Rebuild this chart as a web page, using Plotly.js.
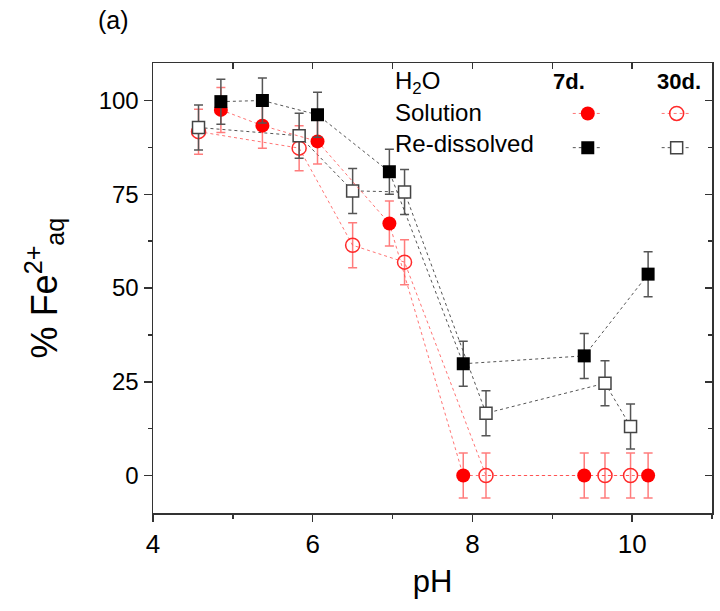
<!DOCTYPE html>
<html>
<head>
<meta charset="utf-8">
<script src="https://cdn.plot.ly/plotly-3.0.1.min.js"></script>
<style>
  html, body { margin: 0; padding: 0; background: #fff; }
  #chart { width: 720px; height: 611px; }
</style>
</head>
<body>
<div id="chart"></div>
<script>
// pH values
const pH7d = [4.85, 5.37, 6.06, 6.96, 7.885, 9.40, 10.20];
const pH30d = [4.57, 5.83, 6.50, 7.15, 8.17, 9.66, 9.98];
// % Fe2+aq, solution
const sol7d = [97.5, 93.3, 89.1, 67.2, 0, 0, 0];
const sol30d = [91.7, 87.3, 61.4, 56.9, 0, 0, 0];
// % Fe2+aq, re-dissolved
const red7d = [99.7, 100, 96.2, 81.0, 29.8, 31.9, 53.7];
const red30d = [92.8, 90.6, 75.9, 75.6, 16.6, 24.6, 13.1];
// error (+/-)
const err = 6;

const font = 'Liberation Sans, Arial, sans-serif';
const RED = '#ff0000';
const RED_LINE = 'rgba(255,70,70,0.75)';
const RED_ERR = 'rgba(255,80,80,0.75)';
const BLK_LINE = '#555555';
const BLK_ERR = '#555555';

function errY(col) {
  return {type: 'constant', value: err, visible: true, color: col, thickness: 1.5, width: 4.5};
}

const traces = [
  {
    x: pH30d, y: sol30d, name: ' ', legend: 'legend2',
    mode: 'lines+markers', type: 'scatter',
    line: {color: RED_LINE, width: 1, dash: 'dot'},
    marker: {symbol: 'circle-open', size: 14, color: '#ff2a2a', line: {width: 1.5}},
    error_y: errY(RED_ERR)
  },
  {
    x: pH30d, y: red30d, name: ' ', legend: 'legend2',
    mode: 'lines+markers', type: 'scatter',
    line: {color: BLK_LINE, width: 1, dash: 'dot'},
    marker: {symbol: 'square', size: 12, color: '#ffffff', line: {width: 1.5, color: '#444444'}},
    error_y: errY(BLK_ERR)
  },
  {
    x: pH7d, y: sol7d, name: ' ', legend: 'legend',
    mode: 'lines+markers', type: 'scatter',
    line: {color: RED_LINE, width: 1, dash: 'dot'},
    marker: {symbol: 'circle', size: 14, color: RED},
    error_y: errY(RED_ERR)
  },
  {
    x: pH7d, y: red7d, name: ' ', legend: 'legend',
    mode: 'lines+markers', type: 'scatter',
    line: {color: BLK_LINE, width: 1, dash: 'dot'},
    marker: {symbol: 'square', size: 13, color: '#000000'},
    error_y: errY(BLK_ERR)
  },
  {
    x: [], y: [], xaxis: 'x2', yaxis: 'y2', showlegend: false,
    hoverinfo: 'skip', mode: 'markers', type: 'scatter'
  }
];

const layout = {
  width: 720, height: 611,
  margin: {l: 153, r: 8, t: 63, b: 98, autoexpand: false},
  paper_bgcolor: '#ffffff', plot_bgcolor: '#ffffff',
  font: {family: font, color: '#000'},
  showlegend: true,
  xaxis: {
    range: [4, 11], tick0: 4, dtick: 2, ticks: 'outside', ticklen: 7, tickwidth: 1.5,
    tickcolor: '#333', showline: true, linecolor: '#333', linewidth: 1.5, mirror: true,
    showgrid: false, zeroline: false, tickfont: {size: 26, family: font},
    minor: {dtick: 1, tick0: 4, ticks: 'outside', ticklen: 4, tickwidth: 1.5, tickcolor: '#333', showgrid: false},
    title: {text: 'pH', font: {size: 31, family: font}, standoff: 12}
  },
  yaxis: {
    range: [-10, 110], tick0: 0, dtick: 25, ticks: 'outside', ticklen: 8, tickwidth: 1.5,
    tickcolor: '#333', showline: true, linecolor: '#333', linewidth: 1.5, mirror: true,
    showgrid: false, zeroline: false, tickfont: {size: 24, family: font},
    minor: {dtick: 12.5, tick0: 0, ticks: 'outside', ticklen: 4, tickwidth: 1.5, tickcolor: '#333', showgrid: false},
    title: {text: '% Fe<sup>2+</sup><sub>aq</sub>', font: {size: 36, family: font}, standoff: 30}
  },
  xaxis2: {
    overlaying: 'x', side: 'top', anchor: 'y', range: [4, 11], tick0: 4, dtick: 1,
    ticks: 'inside', ticklen: 6, tickwidth: 1.5, tickcolor: '#333',
    showticklabels: false, showgrid: false, zeroline: false, showline: false
  },
  yaxis2: {
    overlaying: 'y', side: 'right', anchor: 'x', range: [-10, 110], tick0: 0, dtick: 25,
    ticks: 'inside', ticklen: 7, tickwidth: 1.5, tickcolor: '#333',
    minor: {dtick: 12.5, tick0: 0, ticks: 'inside', ticklen: 4, tickwidth: 1.5, tickcolor: '#333', showgrid: false},
    showticklabels: false, showgrid: false, zeroline: false, showline: false
  },
  legend: {
    x: 0.742, y: 0.937, xanchor: 'left', yanchor: 'top', xref: 'paper', yref: 'paper',
    bgcolor: 'rgba(0,0,0,0)', borderwidth: 0, font: {size: 24, family: font},
    traceorder: 'normal', itemclick: false
  },
  legend2: {
    x: 0.901, y: 0.937, xanchor: 'left', yanchor: 'top', xref: 'paper', yref: 'paper',
    bgcolor: 'rgba(0,0,0,0)', borderwidth: 0, font: {size: 24, family: font},
    traceorder: 'normal', itemclick: false
  },
  annotations: [
    {text: '(a)', xref: 'paper', yref: 'paper', x: (96 - 153) / 559, y: 1 + (63 - 20) / 450,
     xanchor: 'left', yanchor: 'middle', showarrow: false, font: {size: 25, family: font}},
    {text: 'H<sub>2</sub>O', xref: 'paper', yref: 'paper', x: (393 - 153) / 559, y: 1 - (83 - 63) / 450,
     xanchor: 'left', yanchor: 'middle', showarrow: false, font: {size: 24, family: font}},
    {text: 'Solution', xref: 'paper', yref: 'paper', x: (393 - 153) / 559, y: 1 - (112 - 63) / 450,
     xanchor: 'left', yanchor: 'middle', showarrow: false, font: {size: 24, family: font}},
    {text: 'Re-dissolved', xref: 'paper', yref: 'paper', x: (393 - 153) / 559, y: 1 - (144 - 63) / 450,
     xanchor: 'left', yanchor: 'middle', showarrow: false, font: {size: 24, family: font}},
    {text: '<b>7d.</b>', xref: 'paper', yref: 'paper', x: (551 - 153) / 559, y: 1 - (81 - 63) / 450,
     xanchor: 'left', yanchor: 'middle', showarrow: false, font: {size: 22, family: font}},
    {text: '<b>30d.</b>', xref: 'paper', yref: 'paper', x: (655 - 153) / 559, y: 1 - (81 - 63) / 450,
     xanchor: 'left', yanchor: 'middle', showarrow: false, font: {size: 22, family: font}}
  ]
};

Plotly.newPlot('chart', traces, layout, {displayModeBar: false, staticPlot: true});
</script>
</body>
</html>
